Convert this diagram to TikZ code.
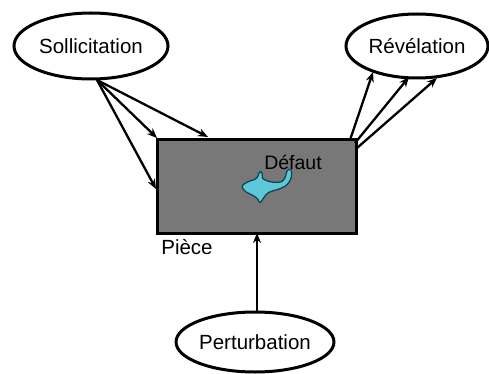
\documentclass[tikz,border=0pt]{standalone}
\usepackage{fontspec}
\setmainfont{Liberation Sans}
\usetikzlibrary{shapes.geometric,arrows.meta}
\definecolor{partgray}{RGB}{120,120,120}
\definecolor{flawfill}{RGB}{92,200,218}
\definecolor{flawedge}{RGB}{20,70,80}
\begin{document}
\begin{tikzpicture}[x=1pt,y=-1pt,
  bubble/.style={draw=black,line width=3pt,ellipse,inner sep=0pt,fill=white,
    font=\fontsize{20.5}{24}\selectfont},
  part/.style={draw=black,line width=3pt,fill=partgray,inner sep=0pt},
  label/.style={inner sep=0pt,font=\fontsize{20.5}{24}\selectfont},
  arr/.style={line width=2.3pt,-{Stealth[length=10pt,width=8pt]}}]
\useasboundingbox (0,0) rectangle (489,374);

% the part, with its flaw
\node[part,minimum width=199pt,minimum height=93pt] (piece) at (256.5,186.5) {};
\draw[fill=flawfill,draw=flawedge,line width=1.3pt] plot[smooth cycle,tension=0.5] coordinates {
  (242.3,186) (245,183.3) (250,181) (255,179.3) (257.7,176.7) (259,172.7)
  (261,171.7) (262.3,174) (262.7,178.3) (266.7,180.7) (271.7,182) (276.7,182.3)
  (281.7,181.7) (284,179.3) (285.7,176) (286.7,171.7) (289,169.3) (291,170)
  (291.7,173.3) (291,178.3) (288.3,183.3) (284.3,186.7) (278.3,189.3) (273.3,190.7)
  (268.3,192.7) (265,196) (262.3,200) (260,202.7) (258.3,200) (255,196.7)
  (250,194) (245.7,191.7) (243.3,189.3)};
\node[label,font=\fontsize{19.5}{22}\selectfont] (defaut) at (293,162) {Défaut};
\node[label] (pieceLabel) at (187,247) {Pièce};

% the three ellipses
\node[bubble,minimum width=154pt,minimum height=66pt] (soll) at (91,46) {Sollicitation};
\node[bubble,minimum width=142pt,minimum height=64pt] (rev) at (417,46) {Révélation};
\node[bubble,minimum width=156pt,minimum height=60pt] (pert) at (255,342) {Perturbation};

% loading applied to the part
\coordinate (sollOut) at (97,80);
\coordinate (inA) at (157,138);
\coordinate (inB) at (208,137);
\coordinate (inC) at (156,189);
\draw[arr] (sollOut) -- (inA);
\draw[arr] (sollOut) -- (inB);
\draw[arr] (sollOut) -- (inC);

% response of the part
\coordinate (outA) at (350,140);
\coordinate (outB) at (355,143);
\coordinate (outC) at (357,148);
\coordinate (revA) at (373,72);
\coordinate (revB) at (409,77);
\coordinate (revC) at (437,78);
\draw[arr] (outA) -- (revA);
\draw[arr] (outB) -- (revB);
\draw[arr] (outC) -- (revC);

% disturbance
\coordinate (pertIn) at (257,233);
\draw[arr] (pert.north -| pertIn) -- (pertIn);
\end{tikzpicture}
\end{document}
